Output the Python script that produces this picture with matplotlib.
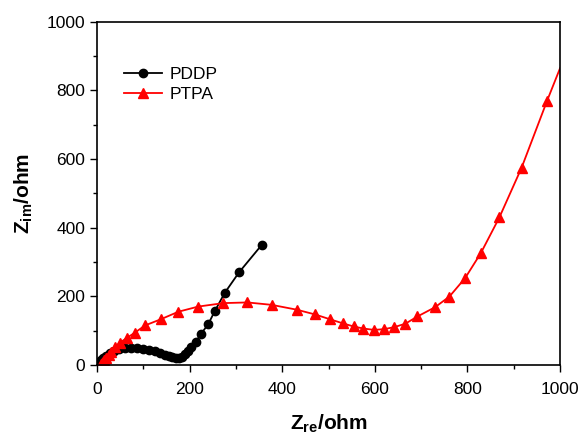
import numpy as np
import matplotlib.pyplot as plt
from matplotlib.ticker import MultipleLocator

plt.rcParams['font.family'] = ['Liberation Sans', 'DejaVu Sans']
plt.rcParams['mathtext.fontset'] = 'custom'
plt.rcParams['mathtext.rm'] = 'Liberation Sans'
plt.rcParams['mathtext.bf'] = 'Liberation Sans:bold'

# PDDP Nyquist data
pddp_re = [2, 5, 9, 14, 20, 28, 37, 48, 60, 73, 86, 100, 113, 125, 136, 146,
           155, 163, 170, 177, 184, 190, 197, 204, 214, 224, 240, 255, 276, 307, 356]
pddp_im = [3, 8, 14, 20, 27, 34, 40, 45, 48, 50, 49, 47, 44, 40, 35, 30,
           26, 22, 21, 21, 24, 31, 40, 52, 68, 89, 118, 158, 210, 270, 350]

# PTPA Nyquist data (last point is where the fitted line leaves the frame)
ptpa_re = [8, 10, 13, 16, 20, 25, 31, 39, 50, 64, 82, 104, 138, 176, 219, 273,
           325, 377, 431, 471, 503, 531, 554, 575, 598, 620, 642, 666, 692, 730,
           761, 795, 829, 869, 917, 972, 1000]
ptpa_im = [2, 5, 9, 14, 20, 28, 38, 52, 65, 78, 94, 115, 133, 155, 170, 180,
           182, 175, 161, 147, 133, 121, 112, 106, 102, 104, 110, 120, 141, 168,
           199, 253, 326, 430, 575, 770, 865]


def draw():
    fig = plt.figure(figsize=(5.84, 4.38), dpi=100)
    ax = fig.add_axes([0.166, 0.167, 0.793, 0.783])

    n = len(ptpa_re)
    ax.plot(pddp_re, pddp_im, '-o', color='black', lw=1.3, ms=6, label='PDDP')
    ax.plot(ptpa_re, ptpa_im, '-^', color='red', lw=1.3, ms=7,
            markevery=list(range(n - 1)), label='PTPA')

    ax.set_xlim(0, 1000)
    ax.set_ylim(0, 1000)
    ax.xaxis.set_major_locator(MultipleLocator(200))
    ax.xaxis.set_minor_locator(MultipleLocator(100))
    ax.yaxis.set_major_locator(MultipleLocator(200))
    ax.yaxis.set_minor_locator(MultipleLocator(100))
    ax.tick_params(which='both', direction='out', top=False, right=False,
                   labelsize=12.5, width=1)
    ax.tick_params(which='major', length=5)
    ax.tick_params(axis='x', which='major', pad=7)
    ax.tick_params(which='minor', length=3)
    for s in ax.spines.values():
        s.set_linewidth(1.2)

    ax.set_xlabel(r'$\mathbf{Z_{re}}$$\mathbf{/ohm}$', fontsize=15, labelpad=12)
    ax.set_ylabel(r'$\mathbf{Z_{im}}$$\mathbf{/ohm}$', fontsize=15, labelpad=8)

    ax.legend(loc='upper left', bbox_to_anchor=(0.025, 0.915), frameon=False,
              fontsize=12.5, handlelength=2.2, handletextpad=0.4,
              labelspacing=0.3)

    plt.savefig('out.png', dpi=100)


if __name__ == '__main__':
    draw()
